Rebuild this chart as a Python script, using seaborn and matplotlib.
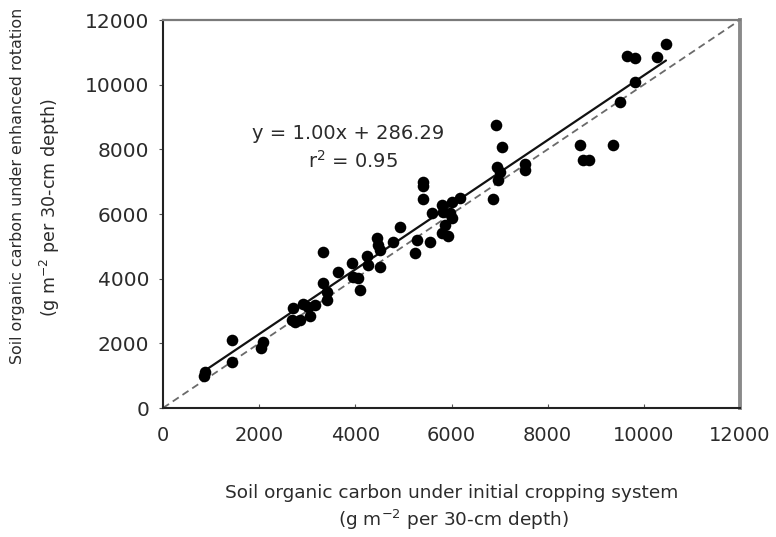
import numpy as np
import pandas as pd
import matplotlib
matplotlib.use("Agg")
import matplotlib.pyplot as plt
import seaborn as sns

# Data (g m^-2 per 30-cm depth)
initial_soc = [850, 880, 1430, 1430, 2040, 2080, 2680, 2740, 2700, 2910, 3020, 3060,
               3160, 2850, 3330, 3330, 3410, 3410, 3640, 3930, 3950, 4060, 4100, 4240,
               4260, 4450, 4470, 4510, 4510, 4780, 4930, 5240, 5280, 5550, 5410, 5410,
               5410, 5600, 5800, 5820, 5970, 6010, 5870, 5800, 5930, 6010, 6180, 6860,
               6930, 7050, 6950, 7010, 6970, 7530, 7530, 8670, 8740, 8860, 9360, 9500,
               9820, 9650, 9820, 10270, 10460]
enhanced_soc = [990, 1110, 2100, 1420, 1860, 2040, 2720, 2660, 3090, 3220, 3120, 2850,
                3190, 2720, 4830, 3870, 3590, 3340, 4210, 4490, 4050, 4020, 3650, 4700,
                4420, 5260, 5040, 4360, 4890, 5140, 5600, 4790, 5200, 5140, 6990, 6870,
                6470, 6030, 6280, 6060, 6030, 5880, 5660, 5410, 5320, 6370, 6500, 6470,
                8750, 8070, 7450, 7300, 7050, 7550, 7360, 8140, 7670, 7670, 8140, 9470,
                10080, 10890, 10830, 10860, 11260]
fit_slope = 1.00
fit_intercept = 286.29
r_squared = 0.95
ticks = [0, 2000, 4000, 6000, 8000, 10000, 12000]

df = pd.DataFrame({"initial": initial_soc, "enhanced": enhanced_soc})

sns.set_style("ticks")
plt.rcParams["font.family"] = ["DejaVu Sans"]
text_color = "#2b2b2b"

fig = plt.figure(figsize=(7.76, 5.37), dpi=100)
ax = fig.add_axes([163 / 776, 1 - 408 / 537, (740 - 163) / 776, (408 - 20) / 537])

# 1:1 dashed line
ax.plot([0, 12000], [0, 12000], linestyle=(0, (4, 2.5)), color="#6a6a6a", lw=1.3, zorder=1)

# regression line
xs = np.array([min(initial_soc), max(initial_soc)])
ax.plot(xs, fit_slope * xs + fit_intercept, color="#111111", lw=1.6, zorder=2)

sns.scatterplot(data=df, x="initial", y="enhanced", ax=ax, color="black",
                s=70, edgecolor="black", linewidth=0, zorder=3, legend=False)

ax.set_xlim(0, 12000)
ax.set_ylim(0, 12000)
ax.set_xticks(ticks)
ax.set_yticks(ticks)
ax.set_xticklabels([str(t) for t in ticks])
ax.set_yticklabels([str(t) for t in ticks])
ax.tick_params(axis="x", direction="in", length=3, pad=13, labelsize=14,
               labelcolor=text_color, color="#555555")
ax.tick_params(axis="y", direction="out", length=3, pad=7, labelsize=14.5,
               labelcolor=text_color, color="#555555")
ax.set_xlabel("")
ax.set_ylabel("")

for side in ["left", "bottom"]:
    ax.spines[side].set_color("#222222")
    ax.spines[side].set_linewidth(1.5)
ax.spines["top"].set_color("#7a7a7a")
ax.spines["top"].set_linewidth(1.6)
ax.spines["right"].set_color("#8a8a8a")
ax.spines["right"].set_linewidth(2.8)

ax.text(3850, 8500, f"y = {fit_slope:.2f}x + {fit_intercept:.2f}", ha="center",
        va="center", fontsize=14, color=text_color)
ax.text(3950, 7650, f"r$^2$ = {r_squared:.2f}", ha="center", va="center",
        fontsize=14, color=text_color)

fig.text(18 / 776, 1 - 186 / 537, "Soil organic carbon under enhanced rotation",
         rotation=90, ha="center", va="center", fontsize=11.4, color=text_color)
fig.text(50 / 776, 1 - 208 / 537, "(g m$^{-2}$ per 30-cm depth)",
         rotation=90, ha="center", va="center", fontsize=12.6, color=text_color)
fig.text(452 / 776, 1 - 493 / 537, "Soil organic carbon under initial cropping system",
         ha="center", va="center", fontsize=13.3, color=text_color)
fig.text(453 / 776, 1 - 520 / 537, "(g m$^{-2}$ per 30-cm depth)",
         ha="center", va="center", fontsize=13.3, color=text_color)

fig.savefig("out.png", dpi=100)
